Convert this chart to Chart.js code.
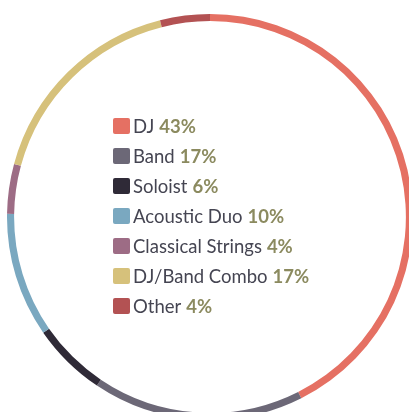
<!DOCTYPE html>
<html>
<head>
<meta charset="utf-8">
<script src="https://cdn.jsdelivr.net/npm/chart.js@4"></script>
<style>
    html, body { margin: 0; padding: 0; background: #fff; overflow: hidden; width: 409px; height: 412px; }
    #wrap { position: absolute; left: 7px; top: 14px; width: 406px; height: 406px; }
    #legend { position: absolute; left: 113px; top: 111px; font-family: Lato, sans-serif; font-size: 18.5px; }
    .item { display: flex; align-items: center; height: 30px; color: #454552; }
    .box { width: 17px; height: 16px; border-radius: 2px; margin-right: 3px; }
    .pct { color: #8b8a5f; font-weight: bold; margin-left: 5px; }
</style>
</head>
<body>
<div id="wrap"><canvas id="myChart"></canvas></div>
<div id="legend"></div>
<script>
const etiquetas = ["DJ", "Band", "Soloist", "Acoustic Duo", "Classical Strings", "DJ/Band Combo", "Other"]
const valores = [43, 17, 6, 10, 4, 17, 4]
const colores = ["#e57063", "#6c6877", "#2f2a37", "#7aa8c0", "#9d6c85", "#d6c17b", "#b35253"]

const ctx = document.querySelector("#myChart").getContext("2d")

const chart = new Chart(ctx, {
    type: 'doughnut',
    data: {
        labels: etiquetas,
        datasets: [
            {
                data: valores,
                backgroundColor: colores,
                borderWidth: 0
            }
        ]
    },
    options: {
        responsive: true,
        maintainAspectRatio: false,
        animation: false,
        cutout: '96.5%',
        layout: { padding: 0 },
        plugins: {
            legend: { display: false },
            tooltip: { enabled: false }
        }
    }
})

// legend inside the ring
const legend = document.querySelector("#legend")
etiquetas.forEach((label, i) => {
    const row = document.createElement("div")
    row.className = "item"
    const box = document.createElement("span")
    box.className = "box"
    box.style.background = colores[i]
    const txt = document.createElement("span")
    txt.innerText = label
    const pct = document.createElement("span")
    pct.className = "pct"
    pct.innerText = valores[i] + "%"
    row.appendChild(box)
    row.appendChild(txt)
    row.appendChild(pct)
    legend.appendChild(row)
})
</script>
</body>
</html>
